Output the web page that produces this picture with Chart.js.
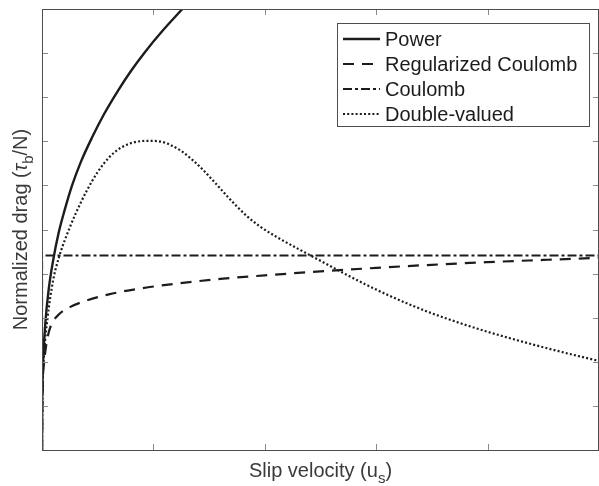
<!DOCTYPE html>
<html>
<head>
<meta charset="utf-8">
<script src="https://cdn.jsdelivr.net/npm/chart.js@4.4.1/dist/chart.umd.min.js"></script>
<style>
  html, body { margin: 0; padding: 0; background: #fff; }
  #wrap { width: 599px; height: 486px; position: relative; }
</style>
</head>
<body>
<div id="wrap"><canvas id="drag" width="599" height="486"></canvas></div>
<script>
// slip velocity (x) and normalized drag (y) for each friction law
const powerSlip = [0, 0.001, 0.003, 0.01, 0.03, 0.06, 0.1, 0.15, 0.2, 0.27, 0.35, 0.45, 0.56, 0.68, 0.8, 0.92, 1.08, 1.26];
const powerDrag = [0, 0.93, 1.34, 2.0, 2.88, 3.64, 4.3, 4.93, 5.41, 6.0, 6.54, 7.09, 7.63, 8.14, 8.6, 9.01, 9.5, 10.0];

const regSlip = [0, 0.004, 0.02, 0.05, 0.08, 0.15, 0.25, 0.4, 0.6, 0.9, 1.2, 1.6, 2.0, 2.5, 3.0, 3.5, 4.0, 4.5, 5.0];
const regDrag = [0, 1.2, 2.0, 2.55, 2.82, 3.07, 3.24, 3.39, 3.53, 3.67, 3.77, 3.88, 3.96, 4.05, 4.13, 4.2, 4.26, 4.31, 4.36];

const coulombSlip = [0, 0, 5];
const coulombDrag = [0, 4.41, 4.41];

const dvSlip = [0, 0.005, 0.02, 0.05, 0.1, 0.15, 0.25, 0.35, 0.45, 0.55, 0.65, 0.75, 0.85, 0.95, 1.05, 1.15, 1.25, 1.35, 1.45, 1.55, 1.65, 1.75, 1.85, 1.95, 2.1, 2.3, 2.5, 2.7, 2.9, 3.1, 3.3, 3.5, 3.75, 4.0, 4.25, 4.5, 4.75, 5.0];
const dvDrag = [0, 1.3, 2.2, 3.0, 3.85, 4.35, 5.05, 5.62, 6.1, 6.48, 6.75, 6.91, 6.99, 7.01, 7.0, 6.92, 6.78, 6.58, 6.34, 6.07, 5.79, 5.52, 5.28, 5.08, 4.84, 4.56, 4.29, 4.02, 3.76, 3.52, 3.3, 3.1, 2.88, 2.68, 2.5, 2.33, 2.17, 2.02];

const xTicks = [0, 1, 2, 3, 4, 5];
const yTicks = [0, 1, 2, 3, 4, 5, 6, 7, 8, 9, 10];

const toPoints = (xs, ys) => xs.map((x, i) => ({ x: x, y: ys[i] }));

const ink = '#1c1c1c';
const axisGrey = '#4d4d4d';

const datasets = [
    { label: 'Power', data: toPoints(powerSlip, powerDrag), borderDash: [], borderWidth: 2.4 },
    { label: 'Regularized Coulomb', data: toPoints(regSlip, regDrag), borderDash: [11, 8], borderWidth: 2.2 },
    { label: 'Coulomb', data: toPoints(coulombSlip, coulombDrag), borderDash: [9, 3, 3, 3], borderWidth: 2.2, cubicInterpolationMode: 'default', tension: 0 },
    { label: 'Double-valued', data: toPoints(dvSlip, dvDrag), borderDash: [2, 2.2], borderWidth: 2.2 }
].map(ds => Object.assign({
    borderColor: ink,
    backgroundColor: ink,
    pointRadius: 0,
    fill: false,
    cubicInterpolationMode: 'monotone'
}, ds));

// inward ticks on all four sides plus the closing frame
const frameTicks = {
    id: 'frameTicks',
    afterDatasetsDraw(chart) {
        const { ctx, chartArea: a, scales } = chart;
        ctx.save();
        ctx.strokeStyle = '#8a8a8a';
        ctx.lineWidth = 1;
        yTicks.forEach(v => {
            const y = Math.round(scales.y.getPixelForValue(v)) + 0.5;
            ctx.beginPath();
            ctx.moveTo(a.left, y); ctx.lineTo(a.left + 6, y);
            ctx.moveTo(a.right, y); ctx.lineTo(a.right - 6, y);
            ctx.stroke();
        });
        xTicks.forEach(v => {
            const x = Math.round(scales.x.getPixelForValue(v)) + 0.5;
            ctx.beginPath();
            ctx.moveTo(x, a.bottom); ctx.lineTo(x, a.bottom - 6);
            ctx.moveTo(x, a.top); ctx.lineTo(x, a.top + 6);
            ctx.stroke();
        });
        ctx.strokeStyle = axisGrey;
        ctx.strokeRect(Math.round(a.left) + 0.5, Math.round(a.top) + 0.5,
            Math.round(a.right - a.left) - 1, Math.round(a.bottom - a.top));
        ctx.restore();
    }
};

// boxed legend with line samples in the upper right
const boxedLegend = {
    id: 'boxedLegend',
    afterDraw(chart) {
        const { ctx } = chart;
        const left = 337, top = 23, width = 252, height = 103, row = 25;
        ctx.save();
        ctx.fillStyle = '#fff';
        ctx.fillRect(left, top, width, height);
        ctx.strokeStyle = axisGrey;
        ctx.lineWidth = 1;
        ctx.strokeRect(left + 0.5, top + 0.5, width, height);
        ctx.font = '20px "Liberation Sans", Arial, sans-serif';
        ctx.textBaseline = 'middle';
        chart.data.datasets.forEach((ds, i) => {
            const y = top + 16 + i * row;
            ctx.strokeStyle = ds.borderColor;
            ctx.lineWidth = ds.borderWidth;
            ctx.setLineDash(ds.borderDash);
            ctx.beginPath();
            ctx.moveTo(left + 6, y);
            ctx.lineTo(left + 43, y);
            ctx.stroke();
            ctx.setLineDash([]);
            ctx.fillStyle = ink;
            ctx.fillText(ds.label, left + 48, y + 1);
        });
        ctx.restore();
    }
};

// axis titles with subscripts
function drawRich(ctx, parts, x, y) {
    let width = 0;
    parts.forEach(p => { ctx.font = p.font; width += ctx.measureText(p.text).width; });
    let cx = x - width / 2;
    parts.forEach(p => {
        ctx.font = p.font;
        ctx.fillText(p.text, cx, y + (p.dy || 0));
        cx += ctx.measureText(p.text).width;
    });
}

const axisTitles = {
    id: 'axisTitles',
    afterDraw(chart) {
        const { ctx, chartArea: a } = chart;
        const base = '20px "Liberation Sans", Arial, sans-serif';
        const sub = '15px "Liberation Sans", Arial, sans-serif';
        ctx.save();
        ctx.fillStyle = '#3a3a3a';
        ctx.textBaseline = 'alphabetic';
        drawRich(ctx, [
            { text: 'Slip velocity (u', font: base },
            { text: 's', font: sub, dy: 6 },
            { text: ')', font: base }
        ], (a.left + a.right) / 2, 477);
        ctx.translate(27, (a.top + a.bottom) / 2);
        ctx.rotate(-Math.PI / 2);
        drawRich(ctx, [
            { text: 'Normalized drag (', font: base },
            { text: 'τ', font: 'italic ' + base },
            { text: 'b', font: sub, dy: 6 },
            { text: '/N)', font: base }
        ], 0, 0);
        ctx.restore();
    }
};

new Chart(document.getElementById('drag'), {
    type: 'line',
    data: { datasets: datasets },
    plugins: [frameTicks, boxedLegend, axisTitles],
    options: {
        responsive: false,
        animation: false,
        layout: { padding: { left: 34, right: 0, top: 9, bottom: 28 } },
        plugins: { legend: { display: false }, tooltip: { enabled: false } },
        scales: {
            x: {
                type: 'linear', min: 0, max: 5,
                ticks: { display: false, stepSize: 1 },
                grid: { display: false },
                border: { display: false }
            },
            y: {
                type: 'linear', min: 0, max: 10,
                ticks: { display: false, stepSize: 1 },
                grid: { display: false },
                border: { display: false }
            }
        }
    }
});
</script>
</body>
</html>
